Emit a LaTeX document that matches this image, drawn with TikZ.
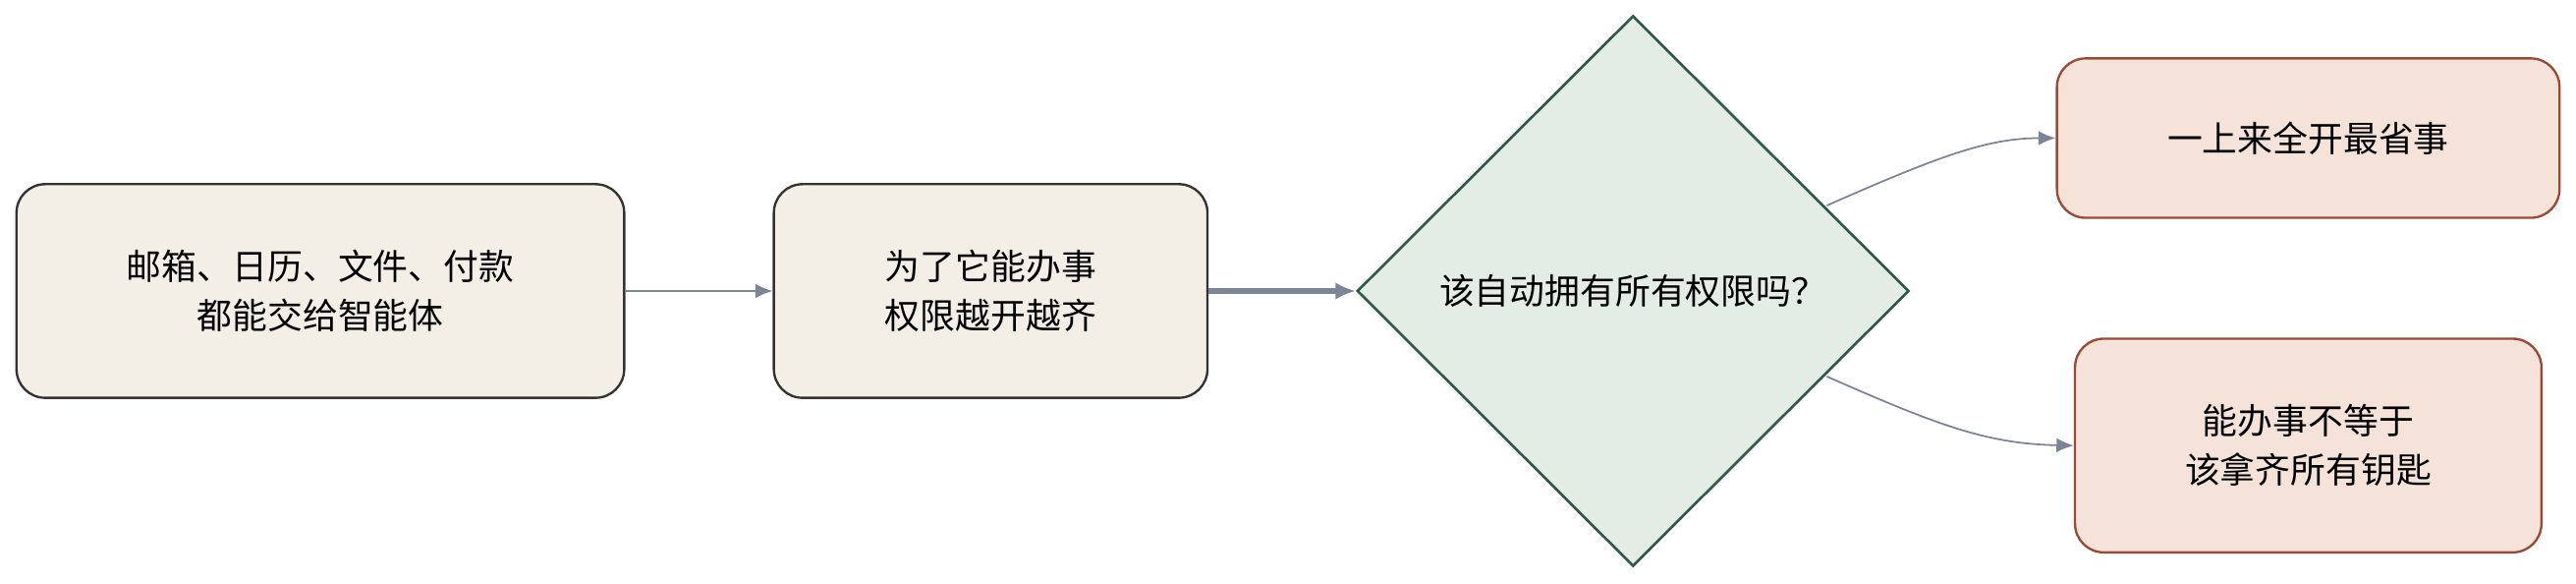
\documentclass[tikz,border=0pt]{standalone}
\usepackage{fontspec}
\newfontfamily\cjk{Noto Sans CJK SC}
\usetikzlibrary{shapes.geometric,arrows.meta}
\definecolor{boxA}{HTML}{F3EEE6}
\definecolor{boxB}{HTML}{E3EDE6}
\definecolor{boxC}{HTML}{F5E3DA}
\definecolor{strA}{HTML}{333333}
\definecolor{strB}{HTML}{2F5A4A}
\definecolor{strC}{HTML}{9A4A35}
\definecolor{arr}{HTML}{7C8498}
\begin{document}
\begin{tikzpicture}[x=0.02cm,y=-0.02cm,font=\cjk\fontsize{12.2}{17}\selectfont,
  box/.style={draw=strA,fill=boxA,rounded corners=0.35cm,line width=0.8pt,align=center,inner sep=0},
  res/.style={draw=strC,fill=boxC,rounded corners=0.35cm,line width=0.8pt,align=center,inner sep=0},
  conn/.style={draw=arr,line width=0.6pt,-{Latex[length=6pt,width=5pt]}}]
\useasboundingbox (0,0) rectangle (1568,355);
\node[box,minimum width=7.4cm,minimum height=2.6cm] (a) at (195,177) {邮箱、日历、文件、付款\\都能交给智能体};
\node[box,minimum width=5.28cm,minimum height=2.6cm] (b) at (603,177) {为了它能办事\\权限越开越齐};
\node[diamond,draw=strB,fill=boxB,line width=0.9pt,minimum width=6.72cm,minimum height=6.7cm,inner sep=0] (d) at (994,177) {该自动拥有所有权限吗？};
\node[res,minimum width=6.12cm,minimum height=1.94cm] (c) at (1405,84) {一上来全开最省事};
\node[res,minimum width=5.68cm,minimum height=2.6cm] (e) at (1405,271) {能办事不等于\\该拿齐所有钥匙};
\draw[conn] (a) -- (b);
\draw[conn,line width=2pt,-{Latex[length=7pt,width=6pt]}] (b) -- (d);
\coordinate (d1) at (1112,125);
\coordinate (d2) at (1112,229);
\draw[conn] (d1) .. controls (1180,95) and (1210,84) .. (c.west);
\draw[conn] (d2) .. controls (1180,259) and (1210,270) .. (e.west);
\end{tikzpicture}
\end{document}
